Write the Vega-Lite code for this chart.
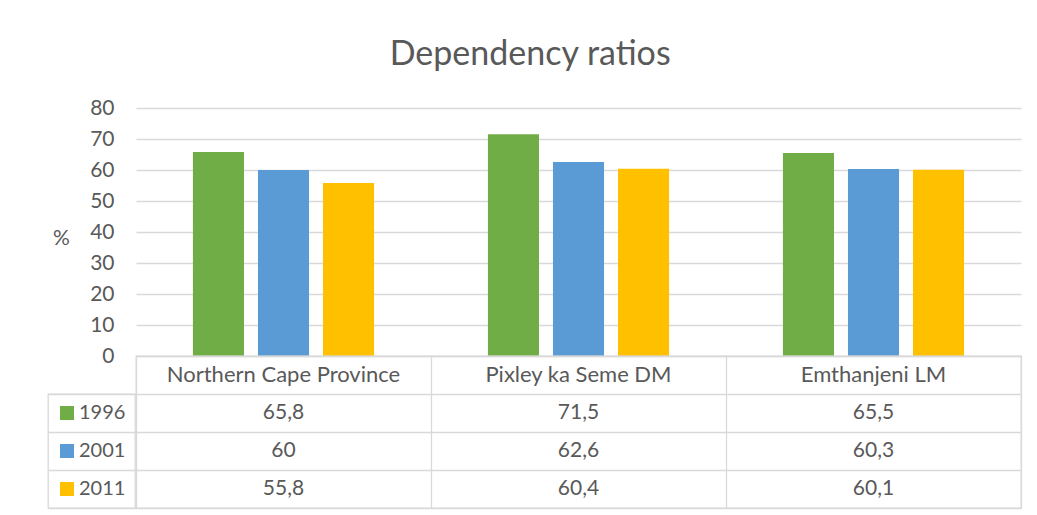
{
  "$schema": "https://vega.github.io/schema/vega-lite/v6.json",
  "background": "white",
  "padding": {"left": 46, "top": 38, "right": 16, "bottom": 7},
  "title": {"text": "Dependency ratios", "font": "Lato", "fontSize": 34, "fontWeight": "normal", "color": "#595959", "anchor": "middle", "dx": -4, "offset": 25},
  "datasets": {
    "ratios": [
      {"region": "Northern Cape Province", "year": "1996", "value": 65.8},
      {"region": "Northern Cape Province", "year": "2001", "value": 60},
      {"region": "Northern Cape Province", "year": "2011", "value": 55.8},
      {"region": "Pixley ka Seme DM", "year": "1996", "value": 71.5},
      {"region": "Pixley ka Seme DM", "year": "2001", "value": 62.6},
      {"region": "Pixley ka Seme DM", "year": "2011", "value": 60.4},
      {"region": "Emthanjeni LM", "year": "1996", "value": 65.5},
      {"region": "Emthanjeni LM", "year": "2001", "value": 60.3},
      {"region": "Emthanjeni LM", "year": "2011", "value": 60.1}
    ]
  },
  "data": {"name": "ratios"},
  "spacing": 0,
  "bounds": "flush",
  "resolve": {"legend": {"color": "independent"}},
  "vconcat": [
    {
      "width": 885,
      "height": 248,
      "mark": {"type": "bar"},
      "encoding": {
        "x": {"field": "region", "type": "nominal", "sort": null, "scale": {"paddingInner": 0.386, "paddingOuter": 0.193}, "axis": null},
        "xOffset": {"field": "year", "type": "nominal", "scale": {"paddingInner": 0.215, "paddingOuter": 0}},
        "y": {
          "field": "value", "type": "quantitative", "scale": {"domain": [0, 80]},
          "axis": {
            "values": [0, 10, 20, 30, 40, 50, 60, 70, 80],
            "title": "%", "titleAngle": 0, "titleX": -75, "titleY": 130, "titleAlign": "center", "titleBaseline": "middle",
            "titleFont": "Lato", "titleFontSize": 21, "titleFontWeight": "normal", "titleColor": "#595959",
            "labelFont": "Lato", "labelFontSize": 21, "labelColor": "#595959", "labelPadding": 22,
            "domain": false, "ticks": false, "grid": true, "gridColor": "#d9d9d9", "gridWidth": 1.3
          }
        },
        "color": {
          "field": "year", "type": "nominal",
          "scale": {"range": ["#70AD47", "#5B9BD5", "#FFC000"]},
          "legend": {
            "title": null, "orient": "none", "legendX": -88, "legendY": 286, "direction": "vertical",
            "symbolType": "square", "symbolSize": 196, "symbolStrokeWidth": 0,
            "labelFont": "Lato", "labelFontSize": 20, "labelColor": "#595959", "labelOffset": 2,
            "rowPadding": 18, "padding": 9, "strokeColor": "#d9d9d9"
          }
        }
      }
    },
    {
      "width": 885,
      "height": 152,
      "view": {"stroke": "#d9d9d9", "strokeWidth": 1.3},
      "encoding": {
        "x": {"field": "region", "type": "nominal", "sort": null, "scale": {"paddingInner": 0, "paddingOuter": 0},
          "axis": {"labels": false, "ticks": false, "domain": false, "grid": true, "tickBand": "extent", "gridColor": "#d9d9d9", "gridWidth": 1.3, "title": null}}
      },
      "layer": [
        {
          "transform": [{"filter": "datum.year === '1996'"}],
          "mark": {"type": "text", "font": "Lato", "fontSize": 22, "color": "#595959"},
          "encoding": {
            "y": {"datum": "h", "type": "nominal"},
            "text": {"field": "region", "type": "nominal"}
          }
        },
        {
          "mark": {"type": "text", "font": "Lato", "fontSize": 21, "color": "#595959"},
          "encoding": {
            "y": {
              "field": "year", "type": "nominal",
              "scale": {"domain": ["h", "1996", "2001", "2011"], "paddingInner": 0, "paddingOuter": 0},
              "axis": {
                "labels": false, "domain": false, "title": null, "tickBand": "extent",
                "ticks": true, "tickSize": 88, "tickWidth": 1.3,
                "tickColor": {"condition": {"test": "datum.extra", "value": "transparent"}, "value": "#d9d9d9"},
                "grid": true, "gridColor": "#d9d9d9", "gridWidth": 1.3
              }
            },
            "text": {"field": "value", "type": "quantitative", "format": ".1~f"}
          }
        }
      ]
    }
  ],
  "config": {
    "view": {"stroke": null},
    "legend": {"strokeWidth": 1.3},
    "locale": {"number": {"decimal": ",", "thousands": ".", "grouping": [3], "currency": ["", " €"]}}
  }
}
